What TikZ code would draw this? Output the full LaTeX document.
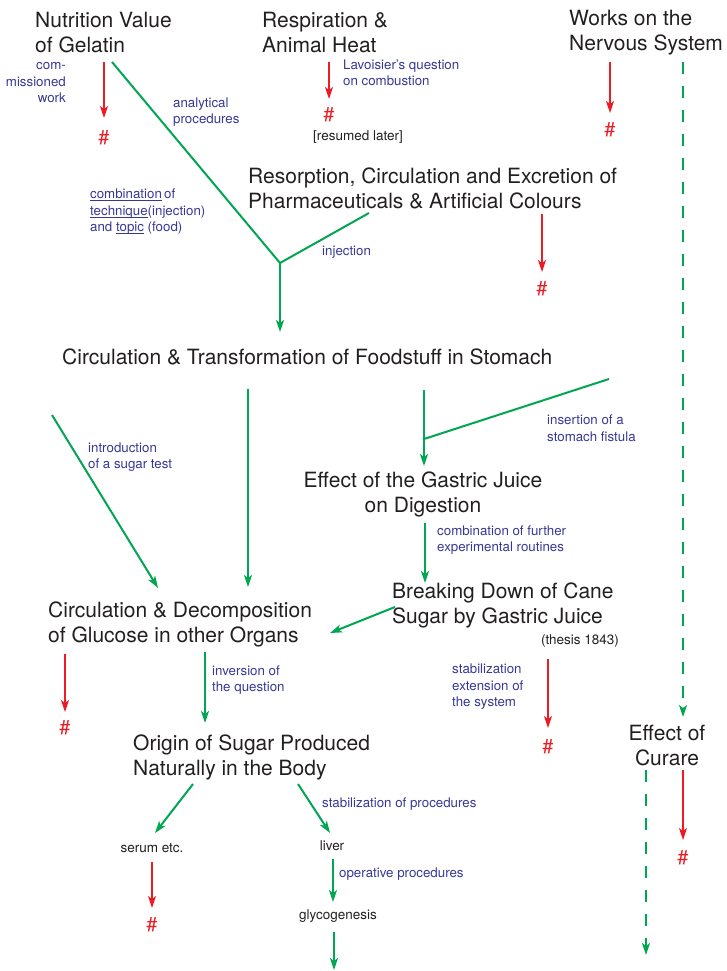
\documentclass[tikz,border=0pt]{standalone}
\usepackage{fontspec}
\setmainfont{TeX Gyre Heros}
\usetikzlibrary{arrows.meta}
\definecolor{grn}{RGB}{0,166,81}
\definecolor{rd}{RGB}{237,28,36}
\definecolor{blu}{RGB}{55,55,150}
\definecolor{ink}{RGB}{35,31,32}
\newcommand\myul[1]{\setbox0\hbox{#1}\rlap{\rule[-2.2pt]{\wd0}{0.7pt}}\box0\relax}
\tikzset{
 ttl/.style={font=\fontsize{21}{25}\selectfont, text=ink, inner sep=0pt, align=left, anchor=west},
 lbl/.style={font=\fontsize{13.3}{16.5}\selectfont, text=blu, inner sep=0pt, align=left, anchor=west},
 sml/.style={font=\fontsize{13.5}{16}\selectfont, text=ink, inner sep=0pt},
 hash/.style={font=\fontsize{20}{20}\selectfont, text=rd, inner sep=0pt},
 tipg/.style={-{Stealth[length=12pt,width=8pt,inset=3pt]}},
 garr/.style={draw=grn, line width=2pt, tipg},
 gline/.style={draw=grn, line width=2pt},
 rarr/.style={draw=rd, line width=1.5pt, tipg},
 darr/.style={garr, dash pattern=on 12pt off 12pt},
}
\begin{document}
\begin{tikzpicture}[x=1pt,y=-1pt]
\useasboundingbox (0,0) rectangle (726,971);

% titles
\node[ttl] (nut) at (35,33) {Nutrition Value\\of Gelatin};
\node[ttl] (resp) at (262,33) {Respiration \&\\Animal Heat};
\node[ttl] (works) at (569,33) {Works on the\\Nervous System};
\node[ttl] (resorp) at (248,188) {Resorption, Circulation and Excretion of\\Pharmaceuticals \& Artificial Colours};
\node[ttl] (circT) at (62,357) {Circulation \& Transformation of Foodstuff in Stomach};
\node[ttl, align=center, anchor=center] (gastric) at (423,494) {Effect of the Gastric Juice\\on Digestion};
\node[ttl] (cane) at (392,605) {Breaking Down of Cane\\Sugar by Gastric Juice};
\node[ttl] (circD) at (48,624) {Circulation \& Decomposition\\of Glucose in other Organs};
\node[ttl, align=center, anchor=center] (curare) at (667,745) {Effect of\\Curare};
\node[ttl] (origin) at (133,757) {Origin of Sugar Produced\\Naturally in the Body};

% small black texts
\node[sml] (resumed) at (358,137) {[resumed later]};
\node[sml] (thesis) at (580,641) {(thesis 1843)};
\node[sml] (serum) at (152,848) {serum etc.};
\node[sml] (liver) at (332,846) {liver};
\node[sml] (glyco) at (338,916) {glycogenesis};

% blue labels
\node[lbl, align=right, anchor=east] (lcomm) at (66,83) {com-\\missioned\\work};
\node[lbl] (lanal) at (173,112) {analytical\\procedures};
\node[lbl] (llav) at (343,73) {Lavoisier's question\\on combustion};
\node[lbl] (lcomb) at (90,212) {\myul{combination}\,of\\\myul{technique}(injection)\\and \myul{topic} (food)};
\node[lbl] (linj) at (322,252) {injection};
\node[lbl] (lsug) at (88,457) {introduction\\of a sugar test};
\node[lbl] (lfist) at (547,428) {insertion of a\\stomach fistula};
\node[lbl] (lfurth) at (437,540) {combination of further\\experimental routines};
\node[lbl] (linv) at (212,680) {inversion of\\the question};
\node[lbl] (lstab) at (452,687) {stabilization\\extension of\\the system};
\node[lbl] (lstabp) at (322,804) {stabilization of procedures};
\node[lbl] (loper) at (339,874) {operative procedures};

% hash marks
\node[hash] (h1) at (104,138) {\#};
\node[hash] (h2) at (329,115) {\#};
\node[hash] (h3) at (610,130) {\#};
\node[hash] (h4) at (542,289) {\#};
\node[hash] (h5) at (65,728) {\#};
\node[hash] (h6) at (548,747) {\#};
\node[hash] (h7) at (683,858) {\#};
\node[hash] (h8) at (152,925) {\#};

% connector end points
\coordinate (nutR0) at (104,62);  \coordinate (nutR1) at (104,118);
\coordinate (respR0) at (329,62); \coordinate (respR1) at (329,99);
\coordinate (wrkR0) at (610,62);  \coordinate (wrkR1) at (610,113);
\coordinate (wrkD0) at (683,62);  \coordinate (wrkD1) at (683,717);
\coordinate (resR0) at (542,214); \coordinate (resR1) at (542,272);
\coordinate (gel0) at (112,62);   \coordinate (J1) at (280,263);
\coordinate (inj0) at (369,213);  \coordinate (J1b) at (280,332);
\coordinate (ct0) at (248,389);   \coordinate (ct1) at (248,587);
\coordinate (st0) at (52,415);    \coordinate (st1) at (158,588);
\coordinate (fi0) at (609,379);   \coordinate (J2) at (424,439);
\coordinate (gv0) at (424,390);   \coordinate (gv1) at (424,466);
\coordinate (gj0) at (425,523);   \coordinate (gj1) at (425,583);
\coordinate (cn0) at (395,607);   \coordinate (cn1) at (330,633);
\coordinate (cdR0) at (65,654);   \coordinate (cdR1) at (65,712);
\coordinate (cd0) at (205,652);   \coordinate (cd1) at (205,723);
\coordinate (cnR0) at (548,659);  \coordinate (cnR1) at (548,728);
\coordinate (ol0) at (193,784);   \coordinate (ol1) at (155,833);
\coordinate (or0) at (298,784);   \coordinate (or1) at (330,833);
\coordinate (seR0) at (152,862);  \coordinate (seR1) at (152,908);
\coordinate (lv0) at (333,859);   \coordinate (lv1) at (333,902);
\coordinate (gl0) at (334,932);   \coordinate (gl1) at (334,970);
\coordinate (cuD0) at (646,770);  \coordinate (cuD1) at (646,955);
\coordinate (cuR0) at (683,770);  \coordinate (cuR1) at (683,840);

% red arrows
\draw[rarr] (nutR0) -- (nutR1);
\draw[rarr] (respR0) -- (respR1);
\draw[rarr] (wrkR0) -- (wrkR1);
\draw[rarr] (resR0) -- (resR1);
\draw[rarr] (cdR0) -- (cdR1);
\draw[rarr] (cnR0) -- (cnR1);
\draw[rarr] (seR0) -- (seR1);
\draw[rarr] (cuR0) -- (cuR1);

% green connectors
\draw[gline] (gel0) -- (J1) -- (inj0);
\draw[garr] (J1) -- (J1b);
\draw[garr] (ct0) -- (ct1);
\draw[garr] (st0) -- (st1);
\draw[gline] (fi0) -- (J2);
\draw[garr] (gv0) -- (gv1);
\draw[garr] (gj0) -- (gj1);
\draw[garr] (cn0) -- (cn1);
\draw[garr] (cd0) -- (cd1);
\draw[garr] (ol0) -- (ol1);
\draw[garr] (or0) -- (or1);
\draw[garr] (lv0) -- (lv1);
\draw[garr] (gl0) -- (gl1);

% dashed green
\draw[darr] (wrkD0) -- (wrkD1);
\draw[darr] (cuD0) -- (cuD1);
\end{tikzpicture}
\end{document}
